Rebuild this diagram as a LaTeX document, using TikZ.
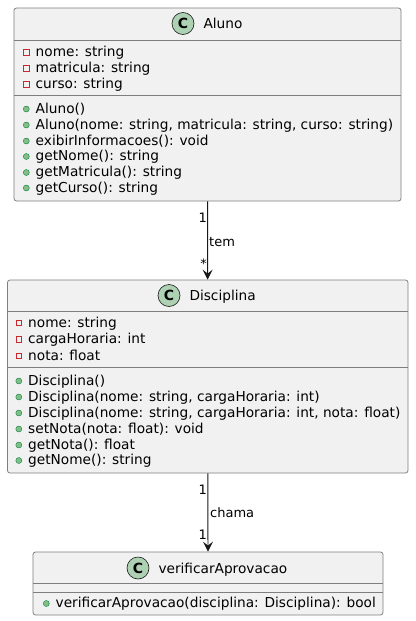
\documentclass[tikz,border=0pt]{standalone}
\usepackage{fontspec}
\setmainfont{DejaVu Sans}
\usetikzlibrary{positioning,arrows.meta}

\definecolor{boxfill}{HTML}{F1F1F1}
\definecolor{boxline}{HTML}{7E7E7E}
\definecolor{linegray}{HTML}{181818}
\definecolor{cfill}{HTML}{ADD1B2}
\definecolor{privred}{HTML}{C82930}
\definecolor{pubfill}{HTML}{84BE84}
\definecolor{pubdraw}{HTML}{038048}

\begin{document}
\begin{tikzpicture}[x=1pt, y=-1pt,
    classbox/.style={draw=boxline, fill=boxfill, rounded corners=2.5pt, line width=0.8pt, inner sep=0pt},
    sepline/.style={draw=boxline, line width=0.8pt},
    cicon/.style={circle, draw=linegray, fill=cfill, line width=0.6pt, minimum size=22pt, inner sep=0pt, font=\fontsize{14}{16}\selectfont\bfseries},
    ctitle/.style={inner sep=0pt, text height=13pt, text depth=3pt, anchor=west, font=\fontsize{13.7}{16}\selectfont},
    privicon/.style={rectangle, draw=privred, line width=0.6pt, minimum size=5.5pt, inner sep=0pt},
    pubicon/.style={circle, draw=pubdraw, fill=pubfill, line width=0.4pt, minimum size=6pt, inner sep=0pt},
    member/.style={anchor=base west, inner sep=0pt, text height=11pt, text depth=3pt, font=\fontsize{13.7}{16}\selectfont},
    privattr/.style={member, label={[privicon, label distance=6pt]left:{}}},
    pubop/.style={member, label={[pubicon, label distance=6pt]left:{}}},
    mult/.style={anchor=base east, inner sep=0pt, font=\fontsize{13}{15}\selectfont},
    rolelabel/.style={anchor=base west, inner sep=0pt, font=\fontsize{13}{15}\selectfont},
    assoc/.style={draw=linegray, line width=0.9pt, -{Stealth[length=10pt, width=10pt, inset=4pt]}}]
    \useasboundingbox (0,0) rectangle (415,621);

    % Nodes
    \node[classbox, minimum width=387pt, minimum height=193pt] (aluno) at (207.5,104.5) {};
    \draw[sepline] (aluno.west |- 0,40) -- (aluno.east |- 0,40);
    \draw[sepline] (aluno.west |- 0,95) -- (aluno.east |- 0,95);
    \node[cicon] (alunoC) at (183,23.5) {C};
    \node[ctitle, right=9pt of alunoC] (alunoTitle) {Aluno};
    \node[privattr] (alunoNome) at (35.5,56.5) {nome: string};
    \node[privattr] (alunoMatricula) at (35.5,72.5) {matricula: string};
    \node[privattr] (alunoCurso) at (35.5,88.5) {curso: string};
    \node[pubop] (alunoCtor) at (35.5,113) {Aluno()};
    \node[pubop] (alunoCtorArgs) at (35.5,129) {Aluno(nome: string, matricula: string, curso: string)};
    \node[pubop] (alunoExibir) at (35.5,145) {exibirInformacoes(): void};
    \node[pubop] (alunoGetNome) at (35.5,160.5) {getNome(): string};
    \node[pubop] (alunoGetMatricula) at (35.5,176.5) {getMatricula(): string};
    \node[pubop] (alunoGetCurso) at (35.5,192) {getCurso(): string};

    \node[classbox, minimum width=400.5pt, minimum height=193pt] (disciplina) at (207.75,376.5) {};
    \draw[sepline] (disciplina.west |- 0,311.5) -- (disciplina.east |- 0,311.5);
    \draw[sepline] (disciplina.west |- 0,367) -- (disciplina.east |- 0,367);
    \node[cicon] (disciplinaC) at (169,295.5) {C};
    \node[ctitle, right=9pt of disciplinaC] (disciplinaTitle) {Disciplina};
    \node[privattr] (disciplinaNome) at (28,327) {nome: string};
    \node[privattr] (disciplinaCarga) at (28,343.5) {cargaHoraria: int};
    \node[privattr] (disciplinaNota) at (28,360) {nota: float};
    \node[pubop] (disciplinaCtor) at (28,385) {Disciplina()};
    \node[pubop] (disciplinaCtorTwo) at (28,401) {Disciplina(nome: string, cargaHoraria: int)};
    \node[pubop] (disciplinaCtorThree) at (28,417) {Disciplina(nome: string, cargaHoraria: int, nota: float)};
    \node[pubop] (disciplinaSetNota) at (28,433) {setNota(nota: float): void};
    \node[pubop] (disciplinaGetNota) at (28,449) {getNota(): float};
    \node[pubop] (disciplinaGetNome) at (28,464.5) {getNome(): string};

    \node[classbox, minimum width=350pt, minimum height=63pt] (verificar) at (208,583.5) {};
    \draw[sepline] (verificar.west |- 0,583) -- (verificar.east |- 0,583);
    \draw[sepline] (verificar.west |- 0,592) -- (verificar.east |- 0,592);
    \node[cicon] (verificarC) at (138,568) {C};
    \node[ctitle, right=9pt of verificarC] (verificarTitle) {verificarAprovacao};
    \node[pubop] (verificarMetodo) at (55.5,607.5) {verificarAprovacao(disciplina: Disciplina): bool};

    % Arrows
    \draw[assoc] (aluno) -- (disciplina);
    \node[mult] (temFrom) at (207,222) {1};
    \node[rolelabel] (tem) at (209,246) {tem};
    \node[mult] (temTo) at (207,268) {*};

    \draw[assoc] (disciplina) -- (verificar);
    \node[mult] (chamaFrom) at (207,494) {1};
    \node[rolelabel] (chama) at (210,517) {chama};
    \node[mult] (chamaTo) at (207,539) {1};
\end{tikzpicture}
\end{document}
